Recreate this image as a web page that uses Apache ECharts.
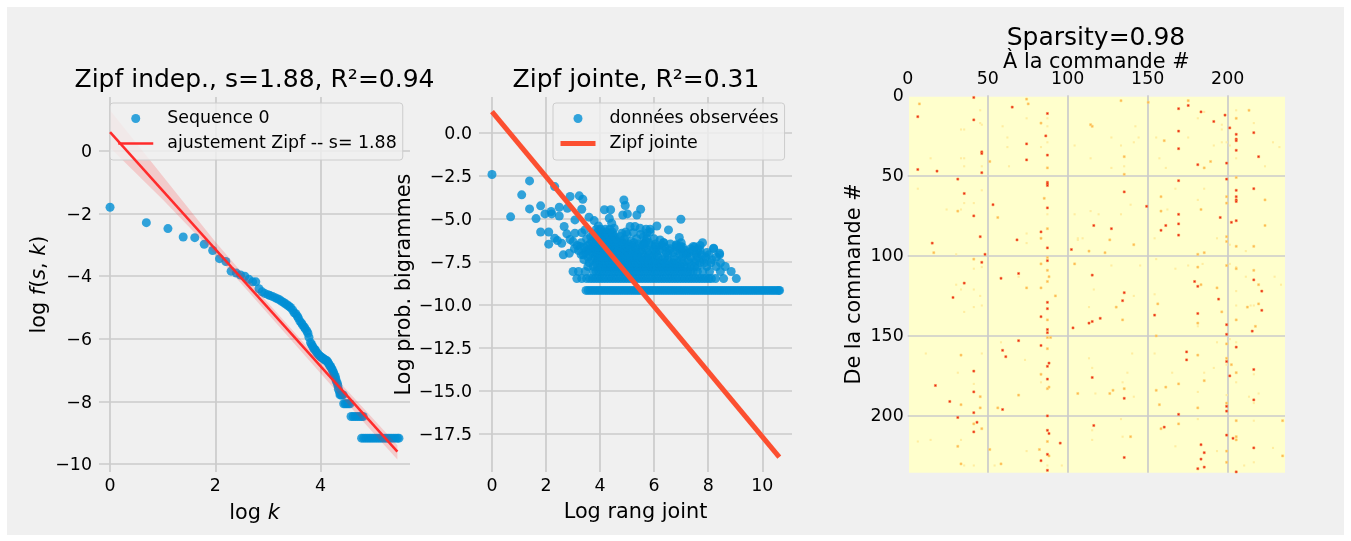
<!DOCTYPE html>
<html>
<head>
<meta charset="utf-8">
<title>Zipf</title>
<script src="https://cdn.jsdelivr.net/npm/echarts@6/dist/echarts.min.js"></script>
<style>
html,body{margin:0;padding:0;background:#fff;}
#frame{position:absolute;left:7px;top:7px;width:1337px;height:528px;background:#f0f0f0;}
#main{position:absolute;left:0;top:0;width:1351px;height:541px;}
</style>
</head>
<body>
<div id="frame"></div>
<div id="main"></div>
<script>
// left panel: rank / frequency of each command
var zipfLogK = [0,0.69,1.10,1.39,1.61,1.79,1.95,2.08,2.20,2.30,2.40,2.48,2.56,2.64,2.71,2.77,2.83,2.89,2.94,3.00,3.04,3.09,3.14,3.18,3.22,3.26,3.30,3.33,3.37,3.40,3.43,3.47,3.50,3.53,3.56,3.58,3.61,3.64,3.66,3.69,3.71,3.74,3.76,3.78,3.81,3.83,3.85,3.87,3.89,3.91,3.93,3.95,3.97,3.99,4.01,4.03,4.04,4.06,4.08,4.09,4.11,4.13,4.14,4.16,4.17,4.19,4.20,4.22,4.23,4.25,4.26,4.28,4.29,4.30,4.32,4.33,4.34,4.36,4.37,4.39,4.41,4.43,4.44,4.47,4.50,4.53,4.56,4.58,4.62,4.66,4.70,4.74,4.78,4.81,4.78,4.82,4.86,4.90,4.94,4.98,5.02,5.06,5.10,5.14,5.18,5.22,5.26,5.30,5.34,5.38,5.42,5.46,5.49];
var zipfLogF = [-1.80,-2.29,-2.48,-2.75,-2.77,-2.98,-3.18,-3.44,-3.53,-3.84,-3.90,-3.96,-4.00,-4.10,-4.18,-4.18,-4.40,-4.50,-4.55,-4.59,-4.62,-4.65,-4.69,-4.72,-4.75,-4.80,-4.84,-4.88,-4.92,-4.96,-5.00,-5.08,-5.17,-5.20,-5.28,-5.34,-5.44,-5.50,-5.56,-5.62,-5.68,-5.75,-5.82,-5.95,-6.12,-6.18,-6.24,-6.30,-6.34,-6.38,-6.44,-6.48,-6.52,-6.55,-6.58,-6.60,-6.62,-6.64,-6.66,-6.68,-6.70,-6.71,-6.76,-6.80,-6.84,-6.88,-6.92,-6.97,-7.02,-7.08,-7.14,-7.20,-7.28,-7.35,-7.42,-7.50,-7.61,-7.70,-7.79,-7.79,-7.79,-7.79,-8.07,-8.07,-8.07,-8.07,-8.07,-8.48,-8.48,-8.48,-8.48,-8.48,-8.48,-8.48,-9.17,-9.17,-9.17,-9.17,-9.17,-9.17,-9.17,-9.17,-9.17,-9.17,-9.17,-9.17,-9.17,-9.17,-9.17,-9.17,-9.17,-9.17,-9.17];
var fitLogK = [0,5.46];
var fitLogF = [0.6,-9.6];
var bandLogK = [0,1,2,3,4,5,5.46];
var bandUpper = [1.3,-0.8,-2.9,-4.85,-6.72,-8.55,-9.4];
var bandLower = [0.1,-1.55,-3.3,-5.2,-7.1,-9.0,-9.85];

// middle panel: bigrams, sparse upper part as points, then the count levels as rows
var jointLogRank = [0,0.69,1.10,1.39,1.39,1.63,1.80,1.80,1.96,2.10,2.10,2.19,2.21,2.32,2.49,2.49,2.32,2.42,2.67,2.79,2.89,3.23,3.36,3.32,3.07,3.59,2.64,2.86,2.58,2.77,2.89,3.07,3.32,3.44,3.00,3.26,3.38,3.57,3.78,3.94,4.16,4.39,4.34,4.43,4.52,4.37,4.88,4.93,4.84,5.01,5.36,5.50,5.11,5.29,5.48,5.23,5.85,6.10,6.99,6.53,5.73,6.93,6.22,4.80,7.79,8.20,8.42,6.82,6.98,6.35,6.04,5.62,5.73,7.20,7.45];
var jointLogProb = [-2.42,-4.88,-3.60,-2.79,-4.42,-4.98,-4.24,-5.76,-4.71,-5.76,-6.47,-4.57,-4.71,-3.12,-4.32,-4.83,-6.12,-6.26,-5.44,-4.38,-3.70,-3.66,-3.86,-4.44,-5.06,-4.90,-7.09,-7.00,-6.42,-5.87,-6.20,-5.83,-5.80,-5.64,-6.32,-6.60,-7.09,-6.80,-5.10,-5.41,-4.47,-4.47,-4.96,-5.25,-5.54,-5.83,-3.90,-4.22,-4.77,-4.71,-4.77,-4.44,-5.44,-5.44,-5.54,-5.80,-5.60,-5.41,-5.02,-5.64,-5.83,-6.08,-6.22,-5.83,-6.38,-6.70,-7.00,-6.50,-6.60,-6.38,-6.60,-6.42,-6.12,-7.00,-6.60];
var jointRowLevels = [-9.16,-8.47,-8.06,-7.77,-7.55,-7.37,-7.22,-7.08,-6.95,-6.84,-6.73,-6.63,-6.54,-6.46,-6.38,-6.30,-6.16,-6.03,-5.90,-5.76,-5.60];
var jointRowRanks = [
  [3.48,3.56,3.64,3.72,3.8,3.88,3.96,4.04,4.12,4.2,4.28,4.36,4.44,4.52,4.6,4.68,4.76,4.84,4.92,5,5.08,5.16,5.24,5.32,5.4,5.48,5.56,5.64,5.72,5.8,5.88,5.96,6.04,6.12,6.2,6.28,6.36,6.44,6.52,6.6,6.68,6.76,6.84,6.92,7,7.08,7.16,7.24,7.32,7.4,7.48,7.56,7.64,7.72,7.8,7.88,7.96,8.04,8.12,8.2,8.28,8.36,8.44,8.52,8.6,8.68,8.76,8.84,8.92,9,9.08,9.16,9.24,9.32,9.4,9.48,9.56,9.64,9.72,9.8,9.88,9.96,10.04,10.12,10.2,10.28,10.36,10.44,10.52,10.6,10.64],
  [3.14,3.32,3.5,3.62,3.72,3.82,3.92,4.02,4.12,4.22,4.32,4.42,4.52,4.62,4.72,4.82,4.92,5.02,5.12,5.22,5.32,5.42,5.52,5.62,5.72,5.82,5.92,6.02,6.12,6.22,6.32,6.42,6.52,6.62,6.72,6.82,6.92,7.02,7.12,7.22,7.32,7.42,7.52,7.62,7.72,7.82,7.92,8.02,8.12,8.27,8.57,9.04],
  [3.0,3.2,3.45,3.75,3.85,3.95,4.05,4.15,4.25,4.35,4.45,4.55,4.65,4.75,4.85,4.95,5.05,5.15,5.25,5.35,5.45,5.55,5.65,5.75,5.85,5.95,6.05,6.15,6.25,6.35,6.45,6.55,6.65,6.75,6.85,6.95,7.05,7.15,7.25,7.35,7.45,7.6,7.8,8.05,8.45,8.85],
  [3.55,3.75,3.9,4,4.1,4.2,4.3,4.4,4.5,4.6,4.7,4.8,4.9,5,5.1,5.2,5.3,5.4,5.5,5.6,5.7,5.8,5.9,6,6.1,6.2,6.3,6.4,6.5,6.6,6.7,6.8,6.9,7,7.1,7.2,7.35,7.5,7.6,7.95,8.3,8.63],
  [3.6,3.85,4,4.12,4.24,4.36,4.48,4.6,4.72,4.84,4.96,5.08,5.2,5.32,5.44,5.56,5.68,5.8,5.92,6.04,6.16,6.28,6.4,6.55,6.7,6.85,7.05,7.3,7.5,7.7,7.85,8.1,8.45],
  [3.4,3.7,3.9,4.05,4.18,4.3,4.42,4.54,4.66,4.78,4.9,5.02,5.14,5.26,5.38,5.5,5.62,5.75,5.9,6.05,6.3,6.5,6.75,7,7.25,7.55,7.8,8.14],
  [3.55,3.8,3.95,4.08,4.2,4.32,4.44,4.56,4.68,4.8,4.92,5.04,5.16,5.28,5.4,5.55,5.75,5.9,6.15,6.4,6.75,7.05,7.35,7.6,7.9,8.3],
  [3.3,3.6,3.85,4.0,4.12,4.25,4.4,4.52,4.7,4.82,4.95,5.1,5.22,5.35,5.6,5.8,6.1,6.5,6.95,7.2,7.55,7.75,8.02,8.42],
  [3.45,3.7,3.9,4.02,4.15,4.3,4.42,4.6,4.72,4.85,5.05,5.3,5.45,5.75,6.05,6.45,6.7,7.05,7.3,7.6,7.95],
  [3.2,3.5,3.8,3.95,4.05,4.2,4.32,4.5,4.62,4.75,4.95,5.2,5.5,5.95,6.2,6.55,6.85,7.15,7.45,7.7],
  [3.05,3.62,3.85,4,4.12,4.26,4.4,4.55,4.7,4.88,5.12,5.4,5.7,6.0,6.3,6.6,6.98,7.35,7.62,8.2],
  [3.4,3.75,3.92,4.05,4.18,4.32,4.5,4.65,4.8,5.0,5.3,5.62,6.1,6.4,6.85,7.05,7.5],
  [3.15,3.55,3.85,3.98,4.1,4.25,4.4,4.58,4.72,4.95,5.18,5.55,5.85,6.3,6.82,7.7],
  [3.62,3.9,4.02,4.16,4.3,4.45,4.6,4.85,5.05,5.42,5.62,6.05,6.6],
  [3.3,3.78,3.95,4.08,4.22,4.38,4.52,4.7,4.92,5.25,5.8,6.35,7.0],
  [3.7,3.88,4.02,4.14,4.28,4.46,4.62,4.8,5.15,5.7],
  [3.5,3.82,3.96,4.1,4.25,4.42,4.58,4.9,5.35,6.0],
  [3.65,3.92,4.05,4.2,4.35,4.52,4.75,5.6],
  [3.75,3.98,4.12,4.3,4.48,5.0,5.5],
  [3.9,4.06,4.22,4.45,4.95,5.85],
  [3.86,4.02,4.2,4.36,5.7]
];
var fitRank = [0,10.63];
var fitProb = [1.24,-18.85];

// right panel: non-empty cells of the transition matrix by strength, [col,row]
var heatStrong = [[40,0],[64,6],[86,10],[5,12],[40,14],[85,24],[73,29],[45,34],[45,35],[73,39],[86,36],[5,45],[17,46],[45,47],[30,51],[86,53],[86,54],[86,55],[34,60],[52,67],[86,69],[40,74],[115,80],[82,84],[44,87],[67,89],[14,91],[86,94],[101,95],[47,98],[86,102],[45,103],[68,110],[57,113],[114,111],[34,116],
[168,7],[174,5],[182,9],[197,11],[190,15],[200,19],[168,21],[204,23],[215,22],[204,26],[204,27],[168,32],[204,33],[218,37],[180,42],[198,41],[198,51],[168,52],[215,57],[204,58],[204,62],[204,64],[204,65],[134,59],[148,68],[168,73],[168,79],[194,75],[201,78],[204,77],[160,80],[157,83],[168,86],[126,82],[215,114],[180,118],[178,115],
[27,125],[86,128],[86,132],[82,137],[102,144],[114,140],[112,141],[86,145],[86,147],[68,152],[82,155],[58,158],[60,162],[87,166],[86,168],[40,171],[86,176],[114,175],[16,180],[40,184],[25,190],[58,195],[40,197],[30,200],[42,203],[40,209],[87,210],[86,208],[94,216],[86,223],[82,227],[86,233],[115,205],[86,199],
[134,122],[133,127],[193,126],[220,121],[220,133],[180,135],[153,136],[119,138],[198,142],[214,146],[198,148],[204,156],[173,159],[173,164],[198,165],[215,170],[200,174],[215,189],[134,188],[198,193],[198,196],[168,198],[159,206],[198,211],[202,213],[182,217],[215,219],[184,222],[134,225],[182,226],[184,231],[180,232],[204,234]];
var heatMedium = [[6,4],[73,1],[74,4],[82,16],[50,40],[30,71],[55,75],[15,97],[40,101],[86,100],[86,108],[87,112],[86,115],[73,119],[82,119],[113,17],[114,18],[84,63],[86,44],[86,82],[82,88],[112,96],[103,104],[82,104],
[132,2],[149,3],[174,2],[212,8],[204,13],[159,27],[188,40],[184,44],[134,37],[134,48],[204,50],[157,62],[198,62],[198,66],[157,71],[182,70],[222,80],[222,64],[125,89],[140,92],[122,97],[198,87],[198,90],[204,93],[215,93],[184,97],[180,98],[198,105],[180,106],[182,117],[192,119],[215,108],[204,107],[218,117],
[91,124],[86,139],[88,150],[86,150],[86,157],[32,161],[82,173],[87,181],[86,182],[68,186],[105,185],[44,187],[32,192],[44,194],[55,194],[40,204],[45,207],[86,215],[30,218],[50,220],[81,220],[87,224],[32,229],[57,229],
[216,143],[155,129],[129,131],[218,129],[211,131],[195,134],[133,139],[204,139],[180,141],[154,149],[198,154],[180,161],[198,163],[201,167],[204,172],[168,179],[184,177],[160,181],[154,183],[127,183],[134,182],[125,185],[156,192],[180,194],[198,191],[168,204],[157,207],[204,202],[233,202],[138,212],[204,212],[204,214],[233,224],[198,221],[198,228]];
var heatFaint = [[32,20],[34,20],[44,8],[45,17],[58,18],[61,25],[61,31],[73,13],[86,13],[86,18],[86,28],[82,31],[13,38],[32,38],[34,38],[44,16],[45,43],[62,43],[34,43],[45,58],[5,57],[32,70],[34,66],[23,70],[40,66],[73,85],[73,91],[103,30],[113,38],[86,73],[103,73],[105,88],[108,88],[105,89],[113,71],[29,98],[40,107],[45,106],[29,117],[68,112],
[141,18],[134,43],[126,44],[160,44],[174,25],[195,17],[195,20],[198,28],[195,28],[190,30],[200,30],[204,38],[215,16],[204,8],[180,13],[184,9],[227,28],[231,31],[222,43],[140,28],[143,25],[126,25],[132,30],[156,38],[154,25],[180,64],[184,57],[166,57],[161,70],[132,73],[118,73],[138,67],[153,88],[192,88],[200,92],[210,96],[154,101],[166,107],[183,104],[174,105],[126,105],[144,105],[210,112],[228,112],[232,117],[204,106],[200,104],
[40,120],[32,120],[44,124],[40,131],[34,134],[45,130],[57,153],[10,160],[45,160],[72,164],[30,172],[40,179],[82,178],[112,163],[114,169],[112,131],[115,120],[13,214],[5,215],[32,214],[114,208],[114,214],[73,221],[34,230],[40,230],[95,230],[53,230],[86,230],
[140,124],[153,123],[204,121],[204,130],[213,130],[215,130],[180,143],[200,151],[204,153],[192,153],[153,160],[139,160],[190,169],[198,167],[215,173],[136,172],[164,172],[184,172],[133,178],[204,178],[116,185],[140,187],[180,184],[198,186],[212,187],[218,185],[215,191],[132,201],[180,201],[215,202],[133,212],[166,218],[227,219],[215,228],[209,230],[192,221]];
var matrixSize = 235;

var font = 'DejaVu Sans';
var blue = '#008fd5';
var gridColor = '#cbcbcb';
var tickSize = 17.4;
var nameSize = 20.8;
var titleSize = 25;

function pairs(xs, ys){
	return xs.map(function(x, i){ return [x, ys[i]]; });
}

var jointPoints = pairs(jointLogRank, jointLogProb);
jointRowLevels.forEach(function(level, i){
	jointRowRanks[i].forEach(function(rank){ jointPoints.push([rank, level]); });
});

var bandPoints = bandLogK.map(function(k, i){ return [k, bandLower[i], bandUpper[i]]; });

var heatData = [];
heatFaint.forEach(function(c){ heatData.push({value: [c[0], c[1], 1]}); });
heatMedium.forEach(function(c){
	heatData.push({value: [c[0], c[1], 3], itemStyle: {borderColor: 'rgba(254,217,118,0.55)', borderWidth: 1}});
});
heatStrong.forEach(function(c){
	heatData.push({value: [c[0], c[1], 6], itemStyle: {borderColor: 'rgba(253,141,60,0.55)', borderWidth: 1}});
});

var cells = [];
for (var i = 0; i < matrixSize; i++) cells.push(String(i));

var mathName = {
	a: {color: '#000', fontFamily: font, fontSize: nameSize},
	i: {color: '#000', fontFamily: font, fontSize: nameSize, fontStyle: 'italic'}
};

// y tick labels sit a little lower than the line, as in the original
var tickRich = {
	v: {color: '#000', fontFamily: font, fontSize: tickSize, padding: [3, 0, 0, 0]}
};

function minusLabel(v){
	return String(v).replace('-', '\u2212');
}

function plotAxis(min, max, step, name, gap, extra){
	var axis = {
		type: 'value',
		min: min,
		max: max,
		minInterval: step,
		maxInterval: step,
		splitNumber: 3,
		name: name,
		nameLocation: 'middle',
		nameGap: gap,
		nameTextStyle: {color: '#000', fontFamily: font, fontSize: nameSize},
		axisLine: {show: false},
		axisTick: {show: false},
		splitLine: {show: true, showMinLine: false, showMaxLine: false, lineStyle: {color: gridColor, width: 1.7}}
	};
	return Object.assign(axis, extra || {});
}

function xLabel(){
	return {
		color: '#000', fontFamily: font, fontSize: tickSize, margin: 6,
		showMinLabel: false, showMaxLabel: false, formatter: minusLabel
	};
}

function yLabel(formatter){
	return {
		margin: 7, rich: tickRich,
		showMinLabel: false, showMaxLabel: false,
		formatter: function(v){ return '{v|' + formatter(v) + '}'; }
	};
}

function legendBox(left, leftPad, rightPad, names){
	return {
		left: left, top: 103,
		orient: 'vertical',
		padding: [3, rightPad, 4, leftPad],
		itemGap: 0,
		itemWidth: 35,
		itemHeight: 9,
		backgroundColor: 'rgba(240,240,240,0.8)',
		borderColor: '#cccccc',
		borderWidth: 1,
		borderRadius: 3,
		textStyle: {color: '#000', fontFamily: font, fontSize: tickSize, lineHeight: 25, padding: [0, 0, 0, 9]},
		data: names
	};
}

function titleAt(text, x, y){
	return {text: text, left: x, top: y, textAlign: 'center', padding: 0,
		textStyle: {color: '#000', fontFamily: font, fontSize: titleSize, fontWeight: 'normal'}};
}

var option = {
	animation: false,
	textStyle: {fontFamily: font},
	title: [
		titleAt('Zipf indep., s=1.88, R\u00b2=0.94', 254.5, 68),
		titleAt('Zipf jointe, R\u00b2=0.31', 636, 68),
		titleAt('Sparsity=0.98', 1096, 26)
	],
	legend: [
		legendBox(110, 7, 6, [
			{name: 'Sequence 0', icon: 'circle'},
			{name: 'ajustement Zipf -- s= 1.88', itemStyle: {opacity: 0}, lineStyle: {width: 2.5}}
		]),
		legendBox(553, 5, 6, [
			{name: 'donn\u00e9es observ\u00e9es', icon: 'circle'},
			{name: 'Zipf jointe', itemStyle: {opacity: 0}, lineStyle: {width: 5}}
		])
	],
	grid: [
		{left: 99, top: 97, width: 311, height: 375},
		{left: 479, top: 97, width: 313, height: 375},
		{left: 909, top: 96.7, width: 376, height: 376, show: true, backgroundColor: '#ffffcc', borderWidth: 0},
		{left: 907.7, top: 95.3, width: 377.3, height: 377.4}
	],
	xAxis: [
		plotAxis(-0.21, 5.7, 2, '{a|log }{i|k}', 31, {gridIndex: 0, axisLabel: xLabel(), nameTextStyle: {rich: mathName}}),
		plotAxis(-0.48, 11.1, 2, 'Log rang joint', 30, {gridIndex: 1, axisLabel: xLabel()}),
		{type: 'category', gridIndex: 2, data: cells, show: false},
		{
			type: 'value', gridIndex: 3, position: 'top', min: 0, max: 235.8, minInterval: 50, maxInterval: 50, splitNumber: 5,
			name: '\u00c0 la commande #', nameLocation: 'middle', nameGap: 22, nameMoveOverlap: false,
			nameTextStyle: {color: '#000', fontFamily: font, fontSize: nameSize},
			axisLine: {show: false}, axisTick: {show: false},
			axisLabel: {color: '#000', fontFamily: font, fontSize: tickSize, margin: 7, showMaxLabel: false},
			splitLine: {show: true, showMinLine: false, showMaxLine: false, lineStyle: {color: gridColor, width: 1.7}}
		}
	],
	yAxis: [
		plotAxis(-10.25, 1.72, 2, '{a|log }{i|f}{a|(}{i|s}{a|, }{i|k}{a|)}', 49, {gridIndex: 0, axisLabel: yLabel(minusLabel), nameTextStyle: {rich: mathName}}),
		plotAxis(-19.72, 2.09, 2.5, 'Log prob. bigrammes', 64, {gridIndex: 1, axisLabel: yLabel(function(v){
			return minusLabel(v.toFixed(1));
		})}),
		{type: 'category', gridIndex: 2, data: cells, show: false, inverse: true},
		{
			type: 'value', gridIndex: 3, inverse: true, min: 0, max: 235.9, minInterval: 50, maxInterval: 50, splitNumber: 5,
			name: 'De la commande #', nameLocation: 'middle', nameGap: 43,
			nameTextStyle: {color: '#000', fontFamily: font, fontSize: nameSize},
			axisLine: {show: false}, axisTick: {show: false},
			axisLabel: {
				margin: 4, rich: tickRich, showMaxLabel: false,
				formatter: function(v){ return '{v|' + v + '}'; }
			},
			splitLine: {show: true, showMinLine: false, showMaxLine: false, lineStyle: {color: gridColor, width: 1.7}}
		}
	],
	visualMap: {
		show: false, seriesIndex: 5, min: 0, max: 6,
		inRange: {color: ['#ffffcc', '#ffeda0', '#fed976', '#feb24c', '#fd8d3c', '#fc4e2a', '#e31a1c']}
	},
	series: [
		{
			name: 'Sequence 0', type: 'scatter', xAxisIndex: 0, yAxisIndex: 0, symbolSize: 9, z: 2,
			itemStyle: {color: blue, opacity: 0.8},
			data: pairs(zipfLogK, zipfLogF)
		},
		{
			type: 'custom', xAxisIndex: 0, yAxisIndex: 0, z: 3, silent: true,
			// confidence band of the fit, one polygon through the lower then the upper edge
			renderItem: function(params, api){
				if (params.dataIndex !== 0) return;
				var lower = bandPoints.map(function(p){ return api.coord([p[0], p[1]]); });
				var upper = bandPoints.map(function(p){ return api.coord([p[0], p[2]]); }).reverse();
				return {type: 'polygon', shape: {points: lower.concat(upper)}, style: {fill: 'rgba(255,40,40,0.18)'}};
			},
			data: bandPoints
		},
		{
			name: 'ajustement Zipf -- s= 1.88', type: 'line', xAxisIndex: 0, yAxisIndex: 0, z: 4,
			symbol: 'none', lineStyle: {color: '#ff2b2b', width: 2.5}, itemStyle: {color: '#ff2b2b'},
			data: pairs(fitLogK, fitLogF)
		},
		{
			name: 'donn\u00e9es observ\u00e9es', type: 'scatter', xAxisIndex: 1, yAxisIndex: 1, symbolSize: 9, z: 2,
			itemStyle: {color: blue, opacity: 0.8},
			data: jointPoints
		},
		{
			name: 'Zipf jointe', type: 'line', xAxisIndex: 1, yAxisIndex: 1, z: 4,
			symbol: 'none', lineStyle: {color: '#fc4f30', width: 5}, itemStyle: {color: '#fc4f30'},
			data: pairs(fitRank, fitProb)
		},
		{
			type: 'heatmap', xAxisIndex: 2, yAxisIndex: 2, z: 2, silent: true,
			data: heatData
		}
	],
	backgroundColor: 'transparent'
};

var chart = echarts.init(document.getElementById('main'));
chart.setOption(option);
</script>
</body>
</html>
